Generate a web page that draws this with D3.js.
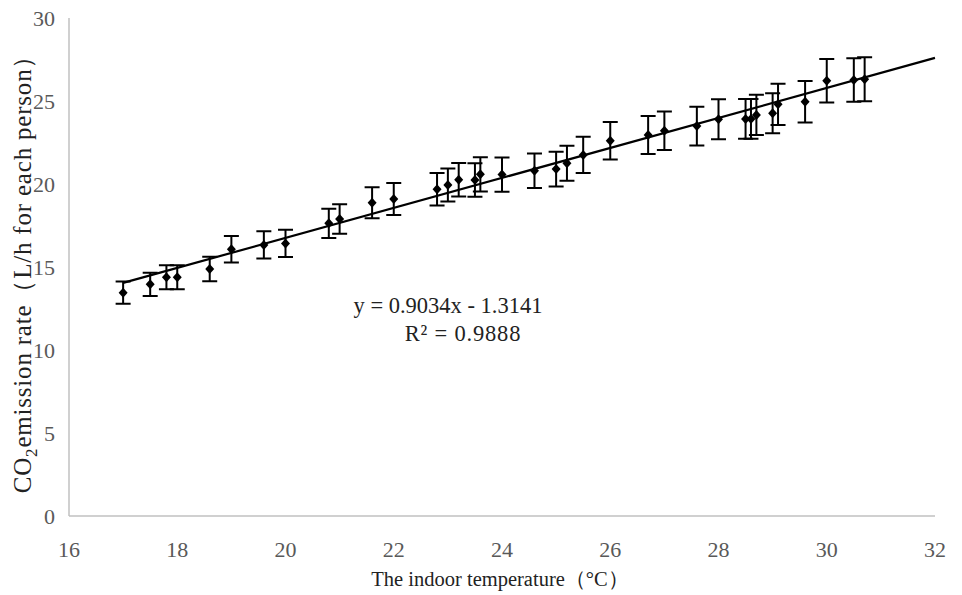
<!DOCTYPE html>
<html>
<head>
<meta charset="utf-8">
<script src="https://cdn.jsdelivr.net/npm/d3@7"></script>
<style>
  body { margin: 0; background: #fff; }
  svg text { font-family: "Liberation Serif", "Times New Roman", serif; }
</style>
</head>
<body>
<svg width="962" height="595"></svg>
<script>
// indoor temperature (°C)
var temps = [17.0, 17.5, 17.8, 18.0, 18.6, 19.0, 19.6, 20.0, 20.8, 21.0, 21.6, 22.0,
             22.8, 23.0, 23.2, 23.5, 23.6, 24.0, 24.6, 25.0, 25.2, 25.5, 26.0, 26.7,
             27.0, 27.6, 28.0, 28.5, 28.6, 28.7, 29.0, 29.1, 29.6, 30.0, 30.5, 30.7];
// CO2 emission rate (L/h for each person)
var rates = [13.45, 13.96, 14.38, 14.38, 14.88, 16.07, 16.33, 16.42, 17.63, 17.89, 18.87, 19.1,
             19.68, 19.94, 20.25, 20.24, 20.58, 20.57, 20.8, 20.9, 21.25, 21.75, 22.61, 22.95,
             23.21, 23.49, 23.9, 23.92, 23.92, 24.16, 24.26, 24.8, 24.96, 26.22, 26.27, 26.31];
// error bar half-lengths
var errs = [0.67, 0.70, 0.72, 0.72, 0.74, 0.80, 0.82, 0.82, 0.88, 0.89, 0.94, 0.96,
            0.98, 1.0, 1.01, 1.01, 1.03, 1.03, 1.04, 1.05, 1.06, 1.09, 1.13, 1.15,
            1.16, 1.17, 1.2, 1.2, 1.2, 1.21, 1.21, 1.24, 1.25, 1.31, 1.31, 1.32];
var xTicks = [16, 18, 20, 22, 24, 26, 28, 30, 32];
var yTicks = [0, 5, 10, 15, 20, 25, 30];
var slope = 0.9034, intercept = -1.3141;
var trendRange = [17, 32];

var svg = d3.select("svg");

var x = d3.scaleLinear().domain([16, 32]).range([69, 935]);
var y = d3.scaleLinear().domain([0, 30]).range([516, 18]);

var data = temps.map(function(t, i) { return {t: t, v: rates[i], e: errs[i]}; });

// axes lines
svg.append("line")
    .attr("x1", x(16)).attr("x2", x(32))
    .attr("y1", y(0)).attr("y2", y(0))
    .attr("stroke", "#c0c0c0").attr("stroke-width", 1.5);
svg.append("line")
    .attr("x1", x(16)).attr("x2", x(16))
    .attr("y1", y(0)).attr("y2", y(30))
    .attr("stroke", "#c0c0c0").attr("stroke-width", 1.5);

// tick labels
svg.append("g").selectAll("text")
    .data(xTicks)
    .enter().append("text")
    .attr("x", function(d) { return x(d); })
    .attr("y", 557)
    .attr("text-anchor", "middle")
    .attr("fill", "#595959")
    .style("font-size", "22px")
    .text(function(d) { return d; });

svg.append("g").selectAll("text")
    .data(yTicks)
    .enter().append("text")
    .attr("x", 55)
    .attr("y", function(d) { return y(d) + 8; })
    .attr("text-anchor", "end")
    .attr("fill", "#595959")
    .style("font-size", "22px")
    .text(function(d) { return d; });

// trend line
svg.append("line")
    .attr("x1", x(trendRange[0])).attr("y1", y(slope * trendRange[0] + intercept))
    .attr("x2", x(trendRange[1])).attr("y2", y(slope * trendRange[1] + intercept))
    .attr("stroke", "#000").attr("stroke-width", 2.2);

// error bars
var eb = svg.append("g").attr("stroke", "#000").attr("stroke-width", 2).attr("fill", "none");
eb.selectAll("path")
    .data(data)
    .enter().append("path")
    .attr("d", function(d) {
      var cx = x(d.t), top = y(d.v + d.e), bot = y(d.v - d.e), w = 7.5;
      return "M" + cx + "," + top + "V" + bot +
             "M" + (cx - w) + "," + top + "H" + (cx + w) +
             "M" + (cx - w) + "," + bot + "H" + (cx + w);
    });

// markers
svg.append("g").selectAll("path")
    .data(data)
    .enter().append("path")
    .attr("transform", function(d) { return "translate(" + x(d.t) + "," + y(d.v) + ")"; })
    .attr("d", "M0,-5L4.5,0L0,5L-4.5,0Z")
    .attr("fill", "#000");

// equation
svg.append("text")
    .attr("x", 448).attr("y", 313)
    .attr("text-anchor", "middle")
    .attr("fill", "#222")
    .style("font-size", "22.5px")
    .text("y = 0.9034x - 1.3141");
svg.append("text")
    .attr("x", 463).attr("y", 341)
    .attr("text-anchor", "middle")
    .attr("fill", "#222")
    .style("font-size", "22.5px")
    .style("letter-spacing", "0.8px")
    .text("R² = 0.9888");

// axis titles
svg.append("text")
    .attr("x", 500).attr("y", 586)
    .attr("text-anchor", "middle")
    .attr("fill", "#222")
    .style("font-size", "20.5px")
    .text("The indoor temperature（°C）");

var yl = svg.append("text")
    .attr("transform", "translate(31,268) rotate(-90)")
    .attr("text-anchor", "middle")
    .attr("fill", "#222")
    .style("font-size", "25px")
    .style("letter-spacing", "0.8px");
yl.append("tspan").text("CO");
yl.append("tspan").attr("dy", 6).style("font-size", "17px").text("2");
yl.append("tspan").attr("dy", -6).text("emission rate（L/h for each person）");
</script>
</body>
</html>
